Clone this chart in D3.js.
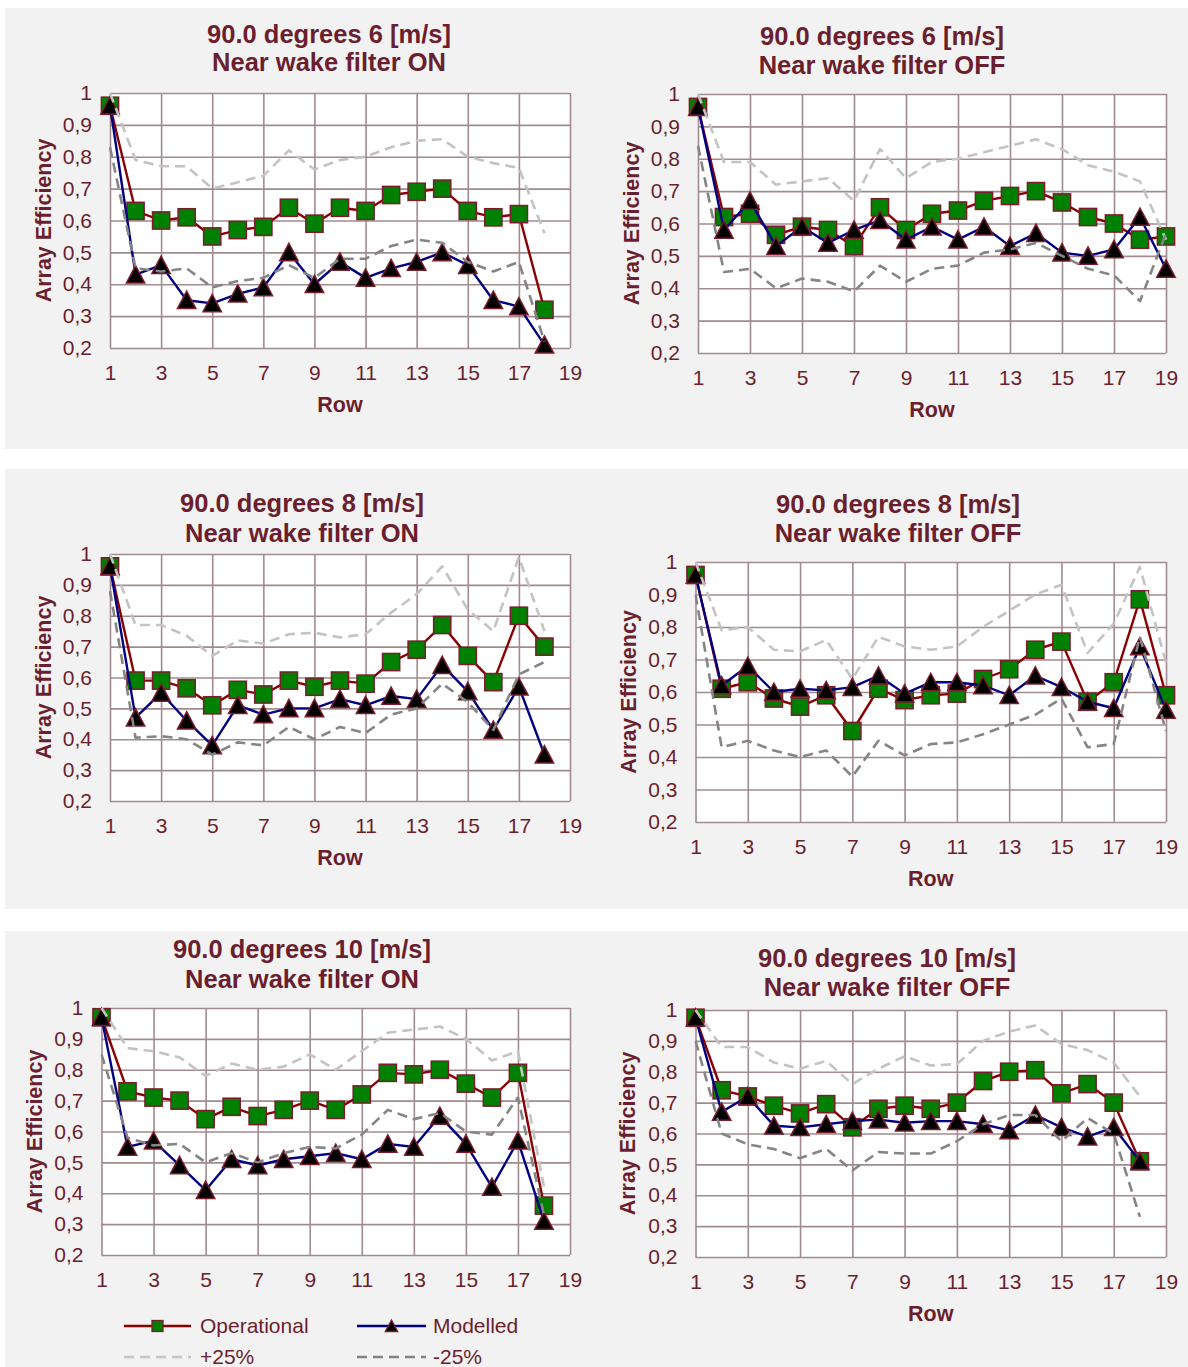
<!DOCTYPE html>
<html>
<head>
<meta charset="utf-8">
<script src="https://cdn.jsdelivr.net/npm/d3@7"></script>
<style>
  html, body { margin: 0; padding: 0; background: #ffffff; }
  svg { display: block; }
  text { font-family: "Liberation Sans", Arial, sans-serif; }
</style>
</head>
<body>
<svg id="chart" width="1188" height="1367"></svg>
<script>
// ---------------- DATA ----------------
const titlesLine1 = ["90.0 degrees 6 [m/s]", "90.0 degrees 6 [m/s]", "90.0 degrees 8 [m/s]",
                     "90.0 degrees 8 [m/s]", "90.0 degrees 10 [m/s]", "90.0 degrees 10 [m/s]"];
const titlesLine2 = ["Near wake filter ON", "Near wake filter OFF", "Near wake filter ON",
                     "Near wake filter OFF", "Near wake filter ON", "Near wake filter OFF"];
const yAxisTitle = "Array Efficiency";
const xAxisTitle = "Row";
const xTickValues = [1, 3, 5, 7, 9, 11, 13, 15, 17, 19];
const yTickValues = [0.2, 0.3, 0.4, 0.5, 0.6, 0.7, 0.8, 0.9, 1.0];
const seriesNames = ["Operational", "Modelled", "+25%", "-25%"];

const operational = [
  [0.96,0.63,0.60,0.61,0.55,0.57,0.58,0.64,0.59,0.64,0.63,0.68,0.69,0.70,0.63,0.61,0.62,0.32],
  [0.96,0.62,0.63,0.565,0.59,0.58,0.53,0.65,0.58,0.63,0.64,0.67,0.685,0.70,0.665,0.62,0.60,0.55,0.56],
  [0.96,0.59,0.59,0.565,0.51,0.56,0.545,0.59,0.57,0.59,0.58,0.65,0.69,0.77,0.67,0.585,0.80,0.70],
  [0.96,0.61,0.63,0.58,0.555,0.59,0.48,0.61,0.575,0.59,0.595,0.64,0.67,0.73,0.755,0.57,0.63,0.885,0.59],
  [0.97,0.73,0.71,0.70,0.64,0.68,0.65,0.67,0.70,0.67,0.72,0.79,0.785,0.80,0.755,0.71,0.79,0.36],
  [0.975,0.74,0.72,0.69,0.665,0.695,0.62,0.68,0.69,0.68,0.70,0.77,0.80,0.805,0.73,0.76,0.70,0.51]
];
const modelled = [
  [0.96,0.43,0.46,0.35,0.34,0.37,0.39,0.50,0.40,0.47,0.42,0.45,0.47,0.50,0.46,0.35,0.33,0.21],
  [0.96,0.58,0.67,0.53,0.59,0.54,0.58,0.61,0.55,0.59,0.55,0.59,0.53,0.57,0.51,0.50,0.52,0.62,0.46],
  [0.96,0.47,0.55,0.46,0.38,0.51,0.48,0.50,0.50,0.53,0.51,0.54,0.53,0.64,0.555,0.43,0.57,0.35],
  [0.96,0.62,0.68,0.60,0.61,0.605,0.615,0.65,0.595,0.63,0.63,0.62,0.59,0.65,0.615,0.57,0.55,0.74,0.545],
  [0.97,0.55,0.57,0.49,0.41,0.51,0.49,0.51,0.52,0.53,0.51,0.56,0.55,0.65,0.56,0.42,0.57,0.31],
  [0.975,0.67,0.72,0.625,0.62,0.63,0.64,0.645,0.635,0.64,0.64,0.63,0.61,0.66,0.62,0.59,0.62,0.51]
];
const plus25 = [
  [1.0,0.79,0.77,0.77,0.70,0.72,0.74,0.82,0.76,0.79,0.80,0.83,0.85,0.855,0.80,0.78,0.765,0.56],
  [1.0,0.79,0.79,0.72,0.73,0.74,0.67,0.83,0.74,0.79,0.80,0.82,0.84,0.86,0.83,0.78,0.76,0.73,0.55],
  [1.0,0.77,0.77,0.735,0.67,0.72,0.71,0.74,0.745,0.73,0.74,0.81,0.87,0.96,0.82,0.75,0.99,0.75],
  [1.0,0.79,0.80,0.73,0.725,0.76,0.64,0.77,0.74,0.73,0.74,0.80,0.85,0.90,0.93,0.72,0.81,0.985,0.69],
  [1.0,0.87,0.86,0.84,0.78,0.82,0.80,0.81,0.85,0.80,0.86,0.92,0.93,0.94,0.90,0.83,0.86,0.42],
  [1.0,0.88,0.88,0.83,0.81,0.835,0.76,0.81,0.85,0.82,0.825,0.90,0.93,0.95,0.89,0.87,0.83,0.72]
];
const minus25 = [
  [0.83,0.45,0.44,0.45,0.39,0.41,0.42,0.46,0.42,0.48,0.48,0.52,0.54,0.53,0.47,0.44,0.47,0.22],
  [0.84,0.45,0.46,0.40,0.43,0.42,0.39,0.47,0.42,0.46,0.47,0.51,0.52,0.54,0.50,0.46,0.44,0.36,0.57],
  [0.88,0.405,0.41,0.40,0.35,0.39,0.38,0.44,0.40,0.44,0.42,0.48,0.50,0.58,0.52,0.43,0.61,0.65],
  [0.90,0.43,0.45,0.42,0.40,0.42,0.34,0.45,0.405,0.44,0.445,0.47,0.50,0.53,0.58,0.43,0.44,0.77,0.48],
  [0.85,0.58,0.555,0.56,0.50,0.53,0.50,0.53,0.55,0.545,0.59,0.67,0.64,0.66,0.60,0.59,0.71,0.33],
  [0.90,0.60,0.565,0.55,0.52,0.55,0.48,0.54,0.535,0.535,0.575,0.63,0.66,0.66,0.575,0.65,0.60,0.33]
];

// ---------------- LAYOUT / STYLE ----------------
const layout = [
  {left:110,   right:570,  top:93,   bottom:348,  titleX:329, t1:43,  t2:71,  yLabX:51,  row:true},
  {left:698,   right:1166, top:94,   bottom:353,  titleX:882, t1:45,  t2:74,  yLabX:639, row:true},
  {left:110,   right:570,  top:554,  bottom:801,  titleX:302, t1:512, t2:542, yLabX:51,  row:true},
  {left:695.5, right:1166, top:562,  bottom:822,  titleX:898, t1:513, t2:542, yLabX:636, row:true},
  {left:101.5, right:570,  top:1008, bottom:1255, titleX:302, t1:958, t2:988, yLabX:42,  row:false},
  {left:695.5, right:1166, top:1010, bottom:1257, titleX:887, t1:967, t2:996, yLabX:635, row:true}
];
const bands = [[8, 449], [469, 909], [931, 1367]];
const TXT = "#6b1e2d";
const GRID = "#a08b8f";
const OPLINE = "#8b0000";
const MODLINE = "#000080";
const MARKSTROKE = "#7a1c2c";
const LIGHT = "#c3c3c3";
const DARK = "#858585";

const svg = d3.select("#chart");

// panel background bands
svg.selectAll("rect.band").data(bands).enter().append("rect")
  .attr("class", "band")
  .attr("x", 5).attr("width", 1183)
  .attr("y", d => d[0]).attr("height", d => d[1] - d[0])
  .attr("fill", "#f2f2f2");

const yFmt = d => d === 1 ? "1" : d3.format(".1f")(d).replace(".", ",");
const triPath = "M0,-9L9.2,8.3L-9.2,8.3Z";

function drawSeries(g, x, y, values, opts) {
  const pts = values.map((v, i) => [i + 1, v]);
  const line = d3.line().x(d => x(d[0])).y(d => y(d[1]));
  const gg = g.append("g");
  if (opts.clip) gg.attr("clip-path", `url(#${opts.clip})`);
  gg.append("path").datum(pts)
    .attr("d", line).attr("fill", "none")
    .attr("stroke", opts.color).attr("stroke-width", opts.width)
    .attr("stroke-dasharray", opts.dash || null)
    .attr("stroke-linejoin", "round");
  if (opts.marker === "square") {
    gg.selectAll("rect.m").data(pts).enter().append("rect")
      .attr("class", "m")
      .attr("x", d => x(d[0]) - 8.6).attr("y", d => y(d[1]) - 8.6)
      .attr("width", 17.2).attr("height", 17.2)
      .attr("fill", "#008000").attr("stroke", MARKSTROKE).attr("stroke-width", 1.5);
  } else if (opts.marker === "triangle") {
    gg.selectAll("path.m").data(pts).enter().append("path")
      .attr("class", "m")
      .attr("d", triPath)
      .attr("transform", d => `translate(${x(d[0])},${y(d[1])})`)
      .attr("fill", "#000000").attr("stroke", MARKSTROKE).attr("stroke-width", 1.5);
  }
}

layout.forEach((L, p) => {
  const g = svg.append("g");
  const w = L.right - L.left, h = L.bottom - L.top;
  const x = d3.scaleLinear().domain([1, 19]).range([L.left, L.right]);
  const y = d3.scaleLinear().domain([0.2, 1.0]).range([L.bottom, L.top]);

  // plot area
  g.append("rect").attr("x", L.left).attr("y", L.top).attr("width", w).attr("height", h).attr("fill", "#ffffff");

  const clipId = "clip" + p;
  svg.append("clipPath").attr("id", clipId).append("rect")
    .attr("x", L.left - 1).attr("y", L.top - 1).attr("width", w + 2).attr("height", h + 2);

  // axes (grid lines via tick size)
  const ya = g.append("g").attr("transform", `translate(${L.left},0)`)
    .call(d3.axisLeft(y).tickValues(yTickValues).tickFormat(yFmt).tickSize(-w).tickPadding(18));
  const xa = g.append("g").attr("transform", `translate(0,${L.bottom})`)
    .call(d3.axisBottom(x).tickValues(xTickValues).tickFormat(d3.format("d")).tickSize(-h).tickPadding(17));
  [ya, xa].forEach(a => {
    a.select(".domain").remove();
    a.selectAll("line").attr("stroke", GRID).attr("stroke-width", 1.6);
    a.selectAll("text").attr("fill", TXT).style("font-size", "21px")
      .style("font-family", '"Liberation Sans", Arial, sans-serif');
  });

  // series
  drawSeries(g, x, y, operational[p], {color: OPLINE, width: 2.4, marker: "square"});
  drawSeries(g, x, y, modelled[p], {color: MODLINE, width: 2.4, marker: "triangle"});
  drawSeries(g, x, y, plus25[p], {color: LIGHT, width: 2.6, dash: "10,6", clip: clipId});
  drawSeries(g, x, y, minus25[p], {color: DARK, width: 2.6, dash: "10,6", clip: clipId});

  // titles
  g.append("text").attr("x", L.titleX).attr("y", L.t1).attr("text-anchor", "middle")
    .attr("fill", TXT).style("font-size", "25.5px").style("font-weight", "bold").text(titlesLine1[p]);
  g.append("text").attr("x", L.titleX).attr("y", L.t2).attr("text-anchor", "middle")
    .attr("fill", TXT).style("font-size", "25.5px").style("font-weight", "bold").text(titlesLine2[p]);

  // axis titles
  g.append("text")
    .attr("transform", `translate(${L.yLabX},${(L.top + L.bottom) / 2}) rotate(-90)`)
    .attr("text-anchor", "middle").attr("fill", TXT)
    .style("font-size", "21.5px").style("font-weight", "bold").text(yAxisTitle);
  if (L.row) {
    g.append("text").attr("x", (L.left + L.right) / 2).attr("y", L.bottom + 64)
      .attr("text-anchor", "middle").attr("fill", TXT)
      .style("font-size", "21.5px").style("font-weight", "bold").text(xAxisTitle);
  }
});

// ---------------- LEGEND ----------------
const legendItems = [
  {name: seriesNames[0], x0: 124, x1: 191, tx: 200, y: 1326, color: OPLINE, dash: null, marker: "square"},
  {name: seriesNames[1], x0: 357, x1: 426, tx: 433, y: 1326, color: MODLINE, dash: null, marker: "triangle"},
  {name: seriesNames[2], x0: 124, x1: 191, tx: 200, y: 1357, color: LIGHT, dash: "10,6", marker: null},
  {name: seriesNames[3], x0: 357, x1: 426, tx: 433, y: 1357, color: DARK, dash: "10,6", marker: null}
];
const lg = svg.append("g");
legendItems.forEach(it => {
  lg.append("line").attr("x1", it.x0).attr("x2", it.x1).attr("y1", it.y).attr("y2", it.y)
    .attr("stroke", it.color).attr("stroke-width", 2.4).attr("stroke-dasharray", it.dash);
  const cx = (it.x0 + it.x1) / 2;
  if (it.marker === "square") {
    lg.append("rect").attr("x", cx - 5.5).attr("y", it.y - 5.5).attr("width", 11).attr("height", 11)
      .attr("fill", "#008000").attr("stroke", MARKSTROKE).attr("stroke-width", 1.3);
  } else if (it.marker === "triangle") {
    lg.append("path").attr("d", "M0,-6L6.2,5.5L-6.2,5.5Z").attr("transform", `translate(${cx},${it.y})`)
      .attr("fill", "#000").attr("stroke", MARKSTROKE).attr("stroke-width", 1.3);
  }
  lg.append("text").attr("x", it.tx).attr("y", it.y + 7).attr("fill", TXT)
    .style("font-size", "21px").text(it.name);
});
</script>
</body>
</html>
